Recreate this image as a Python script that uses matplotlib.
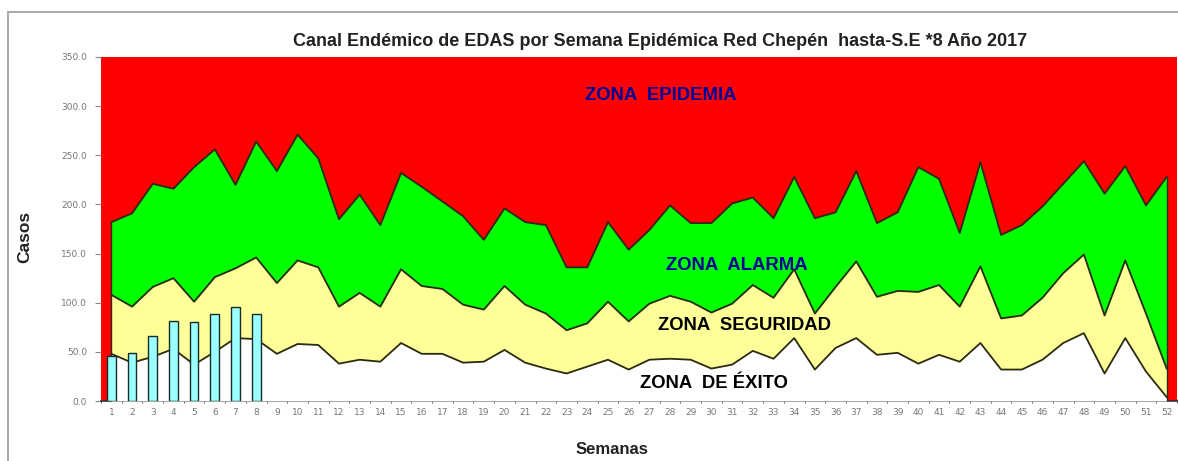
import matplotlib
matplotlib.use("Agg")
import matplotlib.pyplot as plt
import numpy as np
from matplotlib.patches import Rectangle

weeks = list(range(1, 53))
week_labels = [str(w) for w in weeks]

# Upper limit of ZONA ALARMA (green top)
alarma = [182, 191, 221, 216, 238, 256, 220, 264, 234, 271, 247, 185, 210,
          179, 232, 218, 203, 188, 164, 196, 182, 179, 136, 136, 182, 154,
          174, 199, 181, 181, 201, 207, 186, 228, 186, 192, 234, 181, 192,
          238, 226, 171, 243, 169, 179, 198, 221, 244, 211, 239, 199, 228]
# Upper limit of ZONA SEGURIDAD (yellow top)
seguridad = [108, 96, 116, 125, 101, 126, 135, 146, 120, 143, 136, 96, 110,
             96, 134, 117, 114, 98, 93, 117, 98, 89, 72, 79, 101, 81,
             99, 107, 101, 90, 99, 118, 105, 134, 89, 116, 142, 106, 112,
             111, 118, 96, 137, 84, 87, 105, 130, 149, 87, 143, 89, 33]
# Upper limit of ZONA DE EXITO (white top)
exito = [48, 39, 45, 53, 37, 50, 64, 63, 48, 58, 57, 38, 42,
         40, 59, 48, 48, 39, 40, 52, 39, 33, 28, 35, 42, 32,
         42, 43, 42, 33, 37, 51, 43, 64, 32, 54, 64, 47, 49,
         38, 47, 40, 59, 32, 32, 42, 59, 69, 28, 64, 30, 4]
# Reported cases 2017
bar_weeks = [1, 2, 3, 4, 5, 6, 7, 8]
casos = [46, 49, 66, 81, 80, 89, 96, 89]

yticks = [0, 50, 100, 150, 200, 250, 300, 350]

W, H = 1178, 461
fig = plt.figure(figsize=(W / 100, H / 100), dpi=100)
fig.patch.set_facecolor("white")

# outer chart frame
fig.patches.append(Rectangle((8 / W, -0.01), 1.1, (H - 12) / H + 0.01,
                             transform=fig.transFigure, fill=False,
                             edgecolor="#999999", linewidth=1.2))

ax = fig.add_axes([101 / W, (H - 401) / H, (1177 - 101) / W, (401 - 57) / H])
ax.set_facecolor("#FF0000")

x = np.array(weeks, dtype=float)
line_c = "#2b2b10"
ax.fill_between(x, 0, alarma, color="#00FF00", linewidth=0, zorder=1)
ax.fill_between(x, 0, seguridad, color="#FFFF99", linewidth=0, zorder=2)
ax.fill_between(x, 0, exito, color="#FFFFFF", linewidth=0, zorder=3)
ax.plot(x, alarma, color=line_c, lw=1.3, zorder=4)
ax.plot(x, seguridad, color=line_c, lw=1.3, zorder=4)
ax.plot(x, exito, color=line_c, lw=1.3, zorder=4)
ax.vlines([x[0]], 0, alarma[0], color=line_c, lw=1.0, zorder=4)
ax.vlines([x[-1]], 0, alarma[-1], color=line_c, lw=1.0, zorder=4)

ax.bar(bar_weeks, casos, width=0.42, color="#99FFFF", edgecolor="#1a2a2a",
       linewidth=1.0, zorder=5)

ax.set_xlim(0.5, 52.5)
ax.set_ylim(0, 350)
ax.set_yticks(yticks)
ax.set_yticklabels([f"{v:.1f}" for v in yticks])
ax.set_xticks(weeks)
ax.set_xticklabels(week_labels)
ax.set_xticks(np.arange(0.5, 53, 1.0), minor=True)
ax.tick_params(axis="x", which="major", length=0, pad=5, labelsize=6.5,
               labelcolor="#777777")
ax.tick_params(axis="x", which="minor", length=3, color="#444444",
               direction="inout")
ax.tick_params(axis="y", length=4, color="#888888", pad=6, labelsize=6.5,
               labelcolor="#777777")
for s in ["top", "right"]:
    ax.spines[s].set_visible(False)
ax.spines["left"].set_visible(False)
ax.spines["bottom"].set_color("#333333")
ax.spines["bottom"].set_linewidth(1.2)

fig.text(660 / W, 1 - 42 / H,
         "Canal Endémico de EDAS por Semana Epidémica Red Chepén  hasta-S.E *8 Año 2017",
         ha="center", va="center", fontsize=13, fontweight="bold",
         family="Liberation Sans", color="#222222")
fig.text(25 / W, 1 - 237 / H, "Casos", rotation=90, ha="center", va="center",
         fontsize=12.5, fontweight="bold", family="Liberation Sans", color="#222222")
fig.text(612 / W, 1 - 449 / H, "Semanas", ha="center", va="center",
         fontsize=12, fontweight="bold", family="Liberation Sans", color="#222222")

zone_kw = dict(ha="left", va="center", fontsize=13.3, fontweight="bold",
               family="Liberation Sans", zorder=6)
def zt(px, py, s, c):
    fig.text(px / W, 1 - py / H, s, color=c, **zone_kw)

zt(585, 96, "ZONA  EPIDEMIA", "#000099")
zt(666, 265, "ZONA  ALARMA", "#000099")
zt(658, 325, "ZONA  SEGURIDAD", "#000000")
zt(640, 384, "ZONA  DE ÉXITO", "#000000")

fig.savefig("out.png", dpi=100)
